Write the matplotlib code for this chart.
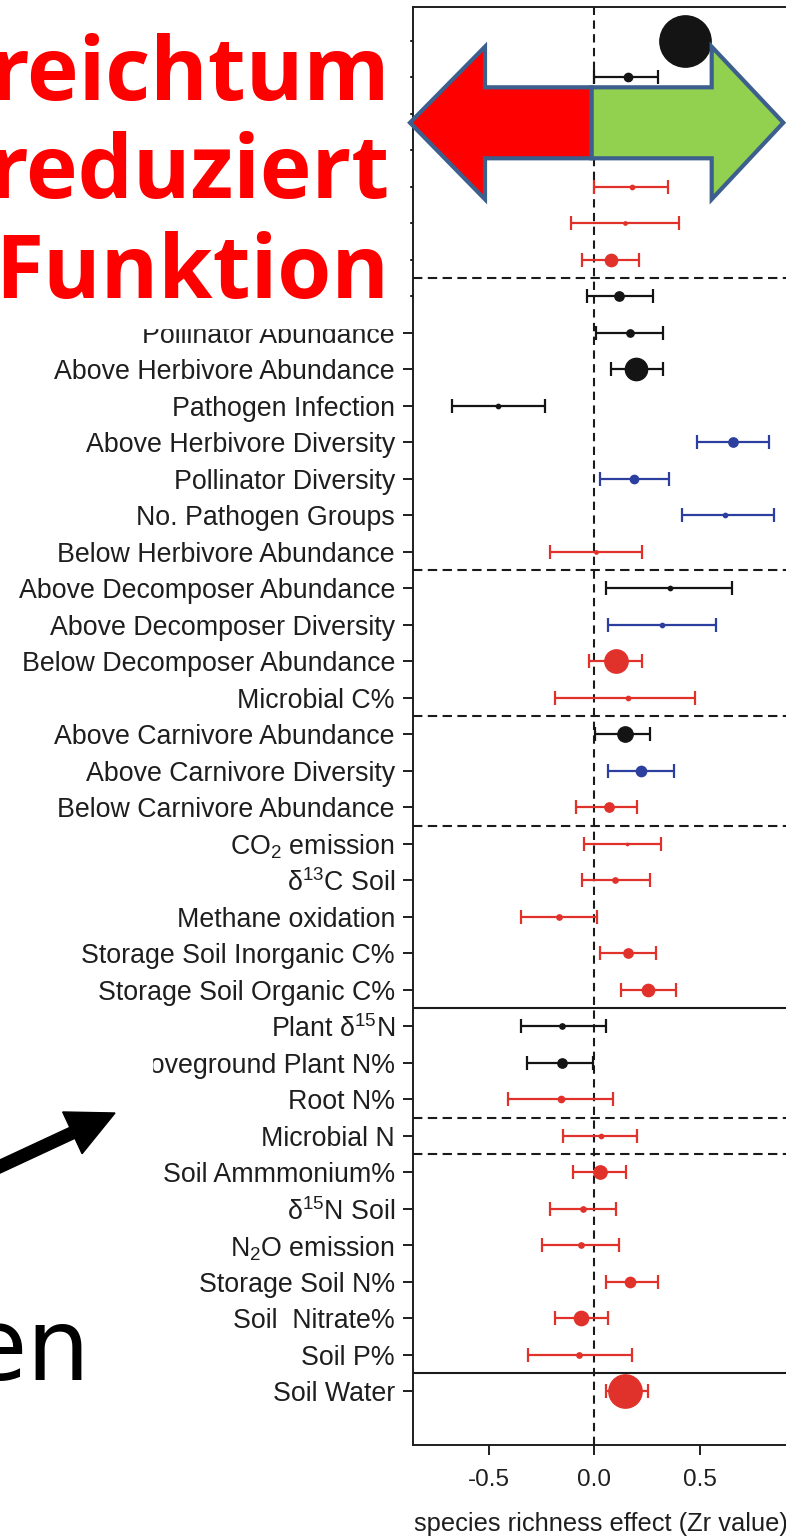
import numpy as np
import matplotlib.pyplot as plt
from matplotlib.patches import Polygon, Rectangle, FancyArrow

plt.rcParams['font.family'] = ['Liberation Sans', 'DejaVu Sans']
plt.rcParams['mathtext.fontset'] = 'custom'
plt.rcParams['mathtext.rm'] = 'Liberation Sans'
plt.rcParams['mathtext.it'] = 'Liberation Sans:italic'

nan = np.nan
# response variables, top to bottom (first rows sit under the slide text)
labels = ['', '', '', '', '', '', '', '',
          'Pollinator Abundance', 'Above Herbivore Abundance', 'Pathogen Infection',
          'Above Herbivore Diversity', 'Pollinator Diversity', 'No. Pathogen Groups',
          'Below Herbivore Abundance', 'Above Decomposer Abundance',
          'Above Decomposer Diversity', 'Below Decomposer Abundance', 'Microbial C%',
          'Above Carnivore Abundance', 'Above Carnivore Diversity',
          'Below Carnivore Abundance', 'CO$_2$ emission', 'δ$^{13}$C Soil',
          'Methane oxidation', 'Storage Soil Inorganic C%', 'Storage Soil Organic C%',
          'Plant δ$^{15}$N', 'Aboveground Plant N%', 'Root N%', 'Microbial N',
          'Soil Ammmonium%', 'δ$^{15}$N Soil', 'N$_2$O emission', 'Storage Soil N%',
          'Soil  Nitrate%', 'Soil P%', 'Soil Water']
zr = [0.43, 0.157, nan, nan, 0.176, 0.145, 0.077, 0.118, 0.168, 0.197, -0.456, 0.658,
      0.189, 0.618, 0.007, 0.358, 0.321, 0.102, 0.157, 0.145, 0.220, 0.069, 0.152, 0.097,
      -0.167, 0.157, 0.252, -0.156, -0.156, -0.160, 0.031, 0.026, -0.056, -0.064, 0.168,
      -0.064, -0.073, 0.145]
ci_lo = [0.38, 0.0, nan, nan, 0.0, -0.111, -0.061, -0.034, 0.007, 0.077, -0.674, 0.487,
         0.026, 0.413, -0.211, 0.053, 0.062, -0.025, -0.187, 0.002, 0.062, -0.088, -0.048,
         -0.061, -0.348, 0.026, 0.124, -0.348, -0.321, -0.411, -0.148, -0.100, -0.211,
         -0.247, 0.053, -0.187, -0.314, 0.053]
ci_hi = [0.48, 0.30, nan, nan, 0.35, 0.40, 0.212, 0.276, 0.326, 0.326, -0.235, 0.827,
         0.351, 0.851, 0.227, 0.650, 0.576, 0.227, 0.476, 0.263, 0.377, 0.203, 0.315,
         0.263, 0.013, 0.29, 0.386, 0.053, -0.006, 0.086, 0.203, 0.149, 0.102, 0.116,
         0.30, 0.065, 0.176, 0.252]
# k = abundance/other, b = diversity, r = process
kind = ['k', 'k', '', '', 'r', 'r', 'r', 'k', 'k', 'k', 'k', 'b', 'b', 'b', 'r', 'k', 'b',
        'r', 'r', 'k', 'b', 'r', 'r', 'r', 'r', 'r', 'r', 'k', 'k', 'r', 'r', 'r', 'r', 'r',
        'r', 'r', 'r', 'r']
weight = [52, 9, nan, nan, 5, 4, 13, 10, 8, 23, 5, 10, 9, 5, 4, 5, 5, 24, 5, 16, 11, 10,
          3, 6, 6, 10, 13, 6, 10, 7, 5, 14, 6, 6, 11, 15, 6, 34]
dashed_breaks = [6.5, 14.5, 18.5, 21.5, 29.5, 30.5]
solid_breaks = [26.5, 36.5]

colors = {'k': '#141414', 'b': '#2c3e9e', 'r': '#e0312a'}

fig = plt.figure(figsize=(7.86, 15.36), dpi=100)
ax = fig.add_axes([0.52545, 0.0592, 0.49936, 0.9362])

rows = np.arange(len(labels))
for i in rows:
    if np.isnan(zr[i]):
        continue
    c = colors[kind[i]]
    ax.errorbar(zr[i], i, xerr=[[zr[i] - ci_lo[i]], [ci_hi[i] - zr[i]]], fmt='o',
                color=c, ecolor=c, mfc=c, mec=c, elinewidth=1.6, capsize=4.8,
                capthick=1.6, markersize=weight[i] * 0.72 - 0.5, zorder=3)

ax.axvline(0, color='#1a1a1a', lw=1.5, ls=(0, (4, 2.6)), zorder=2)
for b in dashed_breaks:
    ax.axhline(b, color='#1a1a1a', lw=1.5, ls=(0, (4.5, 2.6)), zorder=2)
for b in solid_breaks:
    ax.axhline(b, color='#1a1a1a', lw=1.5, zorder=2)

ax.set_xlim(-0.86, 1.0)
ax.set_ylim(38.47, -0.92)
ax.set_yticks(rows)
ax.set_yticklabels(labels, fontsize=19.3, color='#1e1e1e')
ax.set_xticks([-0.5, 0.0, 0.5])
ax.set_xticklabels(['-0.5', '0.0', '0.5'], fontsize=17.5, color='#1e1e1e')
ax.tick_params(axis='y', length=7, width=1.4, pad=6, color='#1e1e1e')
ax.tick_params(axis='x', length=7, width=1.4, pad=10, color='#1e1e1e')
ax.set_xlabel('species richness effect (Zr value)', fontsize=18.4, color='#1e1e1e',
              ha='left', va='center')
ax.xaxis.set_label_coords(0.003, -0.0546)
for s in ax.spines.values():
    s.set_linewidth(1.4)
    s.set_color('#1e1e1e')

# slide overlay drawn in pixel coordinates
ov = fig.add_axes([0, 0, 1, 1])
ov.set_xlim(0, 786)
ov.set_ylim(1536, 0)
ov.axis('off')
ov.set_zorder(5)
ov.patch.set_alpha(0)

ov.add_patch(Rectangle((0, 0), 409, 328, color='white', zorder=1))
for word, base in [('reichtum', 100), ('reduziert', 198), ('Funktion', 298)]:
    ov.text(389, base, word, ha='right', va='baseline', fontsize=63,
            fontweight='bold', color='#ff0000', family=['Open Sans', 'DejaVu Sans'],
            zorder=2)

edge = '#3c5f8d'
left_arrow = [(410, 122.7), (485, 46.7), (485, 87.3), (591.7, 87.3), (591.7, 158.3),
              (485, 158.3), (485, 199.3)]
right_arrow = [(591.7, 87.3), (711.7, 87.3), (711.7, 46.7), (783.3, 122.7),
               (711.7, 199.3), (711.7, 158.3), (591.7, 158.3)]
ov.add_patch(Polygon(left_arrow, closed=True, facecolor='#ff0000', edgecolor=edge,
                     lw=3, joinstyle='miter', zorder=3))
ov.add_patch(Polygon(right_arrow, closed=True, facecolor='#92d050', edgecolor=edge,
                     lw=3, joinstyle='miter', zorder=3))

ov.add_patch(Rectangle((0, 1045), 152, 355, color='white', zorder=1))
ov.add_patch(FancyArrow(-20, 1175.8, 135, -62.8, width=12, head_width=46,
                        head_length=47, length_includes_head=True, color='black',
                        zorder=2))
ov.text(90, 1380, 'en', ha='right', va='baseline', fontsize=72, family='DejaVu Sans',
        color='black', zorder=2)

fig.savefig('out.png', dpi=100)
